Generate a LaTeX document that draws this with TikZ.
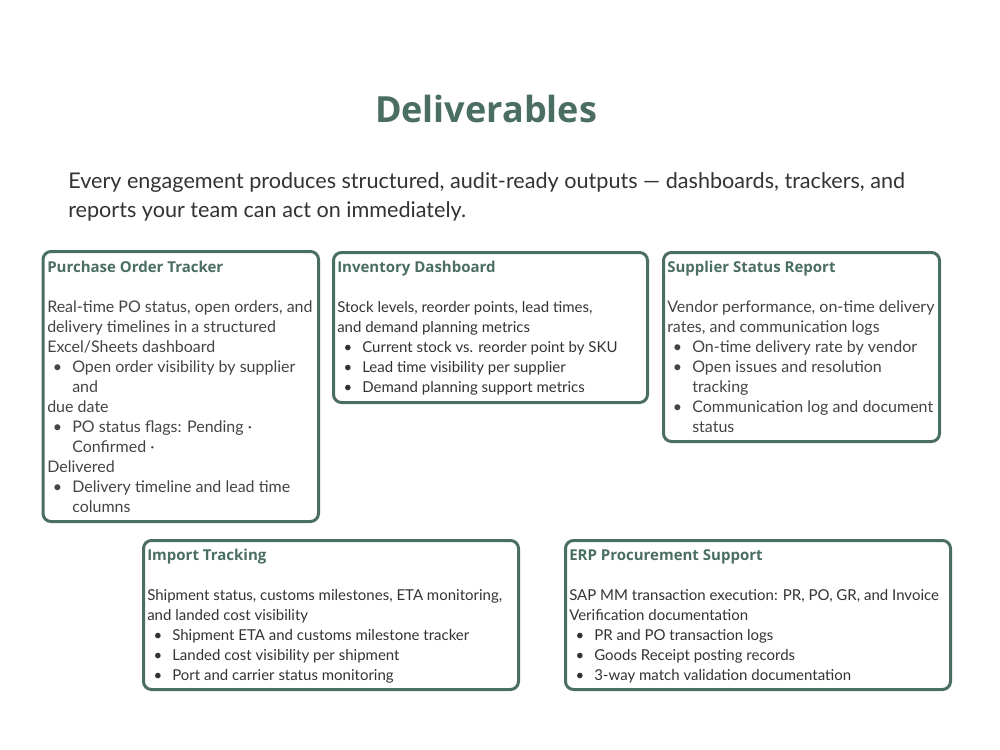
\documentclass[tikz,border=0pt]{standalone}
\usepackage{fontspec}
\setmainfont{Lato}
\newfontfamily\headfont{Open Sans}
\definecolor{sage}{HTML}{4A6E60}
\definecolor{ink}{HTML}{333333}
\definecolor{greyink}{HTML}{444444}
\newcommand{\bul}{\llap{\textbullet\kern 7.5pt}}

\begin{document}
\begin{tikzpicture}[x=0.75pt, y=-0.75pt,
        card/.style={draw=sage, line width=2.25pt, rounded corners=6pt, fill=white},
        head/.style={anchor=base west, inner sep=0, text=sage, font=\headfont\bfseries\fontsize{11.25pt}{13pt}\selectfont},
        body/.style={anchor=base west, inner sep=0, text=ink, font=\fontsize{11.25pt}{15pt}\selectfont},
        wide/.style={body, text=greyink, font=\fontsize{12pt}{15pt}\selectfont}]
    \useasboundingbox[fill=white] (0,0) rectangle (1000,750);

    \node[anchor=base, inner sep=0, text=sage, font=\headfont\bfseries\fontsize{27pt}{30pt}\selectfont] (title) at (486,122) {Deliverables};
    \node[body, font=\fontsize{16.2pt}{21pt}\selectfont] (intro1) at (68,188) {Every engagement produces structured, audit-ready outputs — dashboards, trackers, and};
    \node[body, font=\fontsize{16.2pt}{21pt}\selectfont] (intro2) at (68,217) {reports your team can act on immediately.};

    % purchase order tracker
    \draw[card] (43,251.5) rectangle (318.5,521.5);
    \node[head] (po) at (47,272) {Purchase Order Tracker};
    \foreach \k/\t [count=\i] in {0/{Real-time PO status, open orders, and}, 0/{delivery timelines in a structured},
            0/{Excel/Sheets dashboard}, 1/{\bul Open order visibility by supplier}, 1/{and}, 0/{due date},
            1/{\bul PO status flags: Pending ·}, 1/{Confirmed ·}, 0/{Delivered},
            1/{\bul Delivery timeline and lead time}, 1/{columns}}
        \node[wide] (po-\i) at (47+25*\k, 292+20*\i) {\t};

    % inventory dashboard
    \draw[card] (333.5,252.5) rectangle (647.5,402.5);
    \node[head] (inv) at (337,272) {Inventory Dashboard};
    \foreach \k/\t [count=\i] in {0/{Stock levels, reorder points, lead times,}, 0/{and demand planning metrics},
            1/{\bul Current stock vs. reorder point by SKU}, 1/{\bul Lead time visibility per supplier},
            1/{\bul Demand planning support metrics}}
        \node[body] (inv-\i) at (337+25*\k, 292+20*\i) {\t};

    % supplier status report
    \draw[card] (663.5,252.5) rectangle (939.5,441.5);
    \node[head] (sup) at (667,272) {Supplier Status Report};
    \foreach \k/\t [count=\i] in {0/{Vendor performance, on-time delivery}, 0/{rates, and communication logs},
            1/{\bul On-time delivery rate by vendor}, 1/{\bul Open issues and resolution}, 1/{tracking},
            1/{\bul Communication log and document}, 1/{status}}
        \node[wide] (sup-\i) at (667+25*\k, 292+20*\i) {\t};

    % import tracking
    \draw[card] (143.5,540.5) rectangle (518.5,689.5);
    \node[head] (imp) at (147,560) {Import Tracking};
    \foreach \k/\t [count=\i] in {0/{Shipment status, customs milestones, ETA monitoring,}, 0/{and landed cost visibility},
            1/{\bul Shipment ETA and customs milestone tracker}, 1/{\bul Landed cost visibility per shipment},
            1/{\bul Port and carrier status monitoring}}
        \node[body] (imp-\i) at (147+25*\k, 580+20*\i) {\t};

    % erp procurement support
    \draw[card] (565.5,540.5) rectangle (950.5,689.5);
    \node[head] (erp) at (569,560) {ERP Procurement Support};
    \foreach \k/\t [count=\i] in {0/{SAP MM transaction execution: PR, PO, GR, and Invoice}, 0/{Verification documentation},
            1/{\bul PR and PO transaction logs}, 1/{\bul Goods Receipt posting records},
            1/{\bul 3-way match validation documentation}}
        \node[body] (erp-\i) at (569+25*\k, 580+20*\i) {\t};
\end{tikzpicture}
\end{document}
